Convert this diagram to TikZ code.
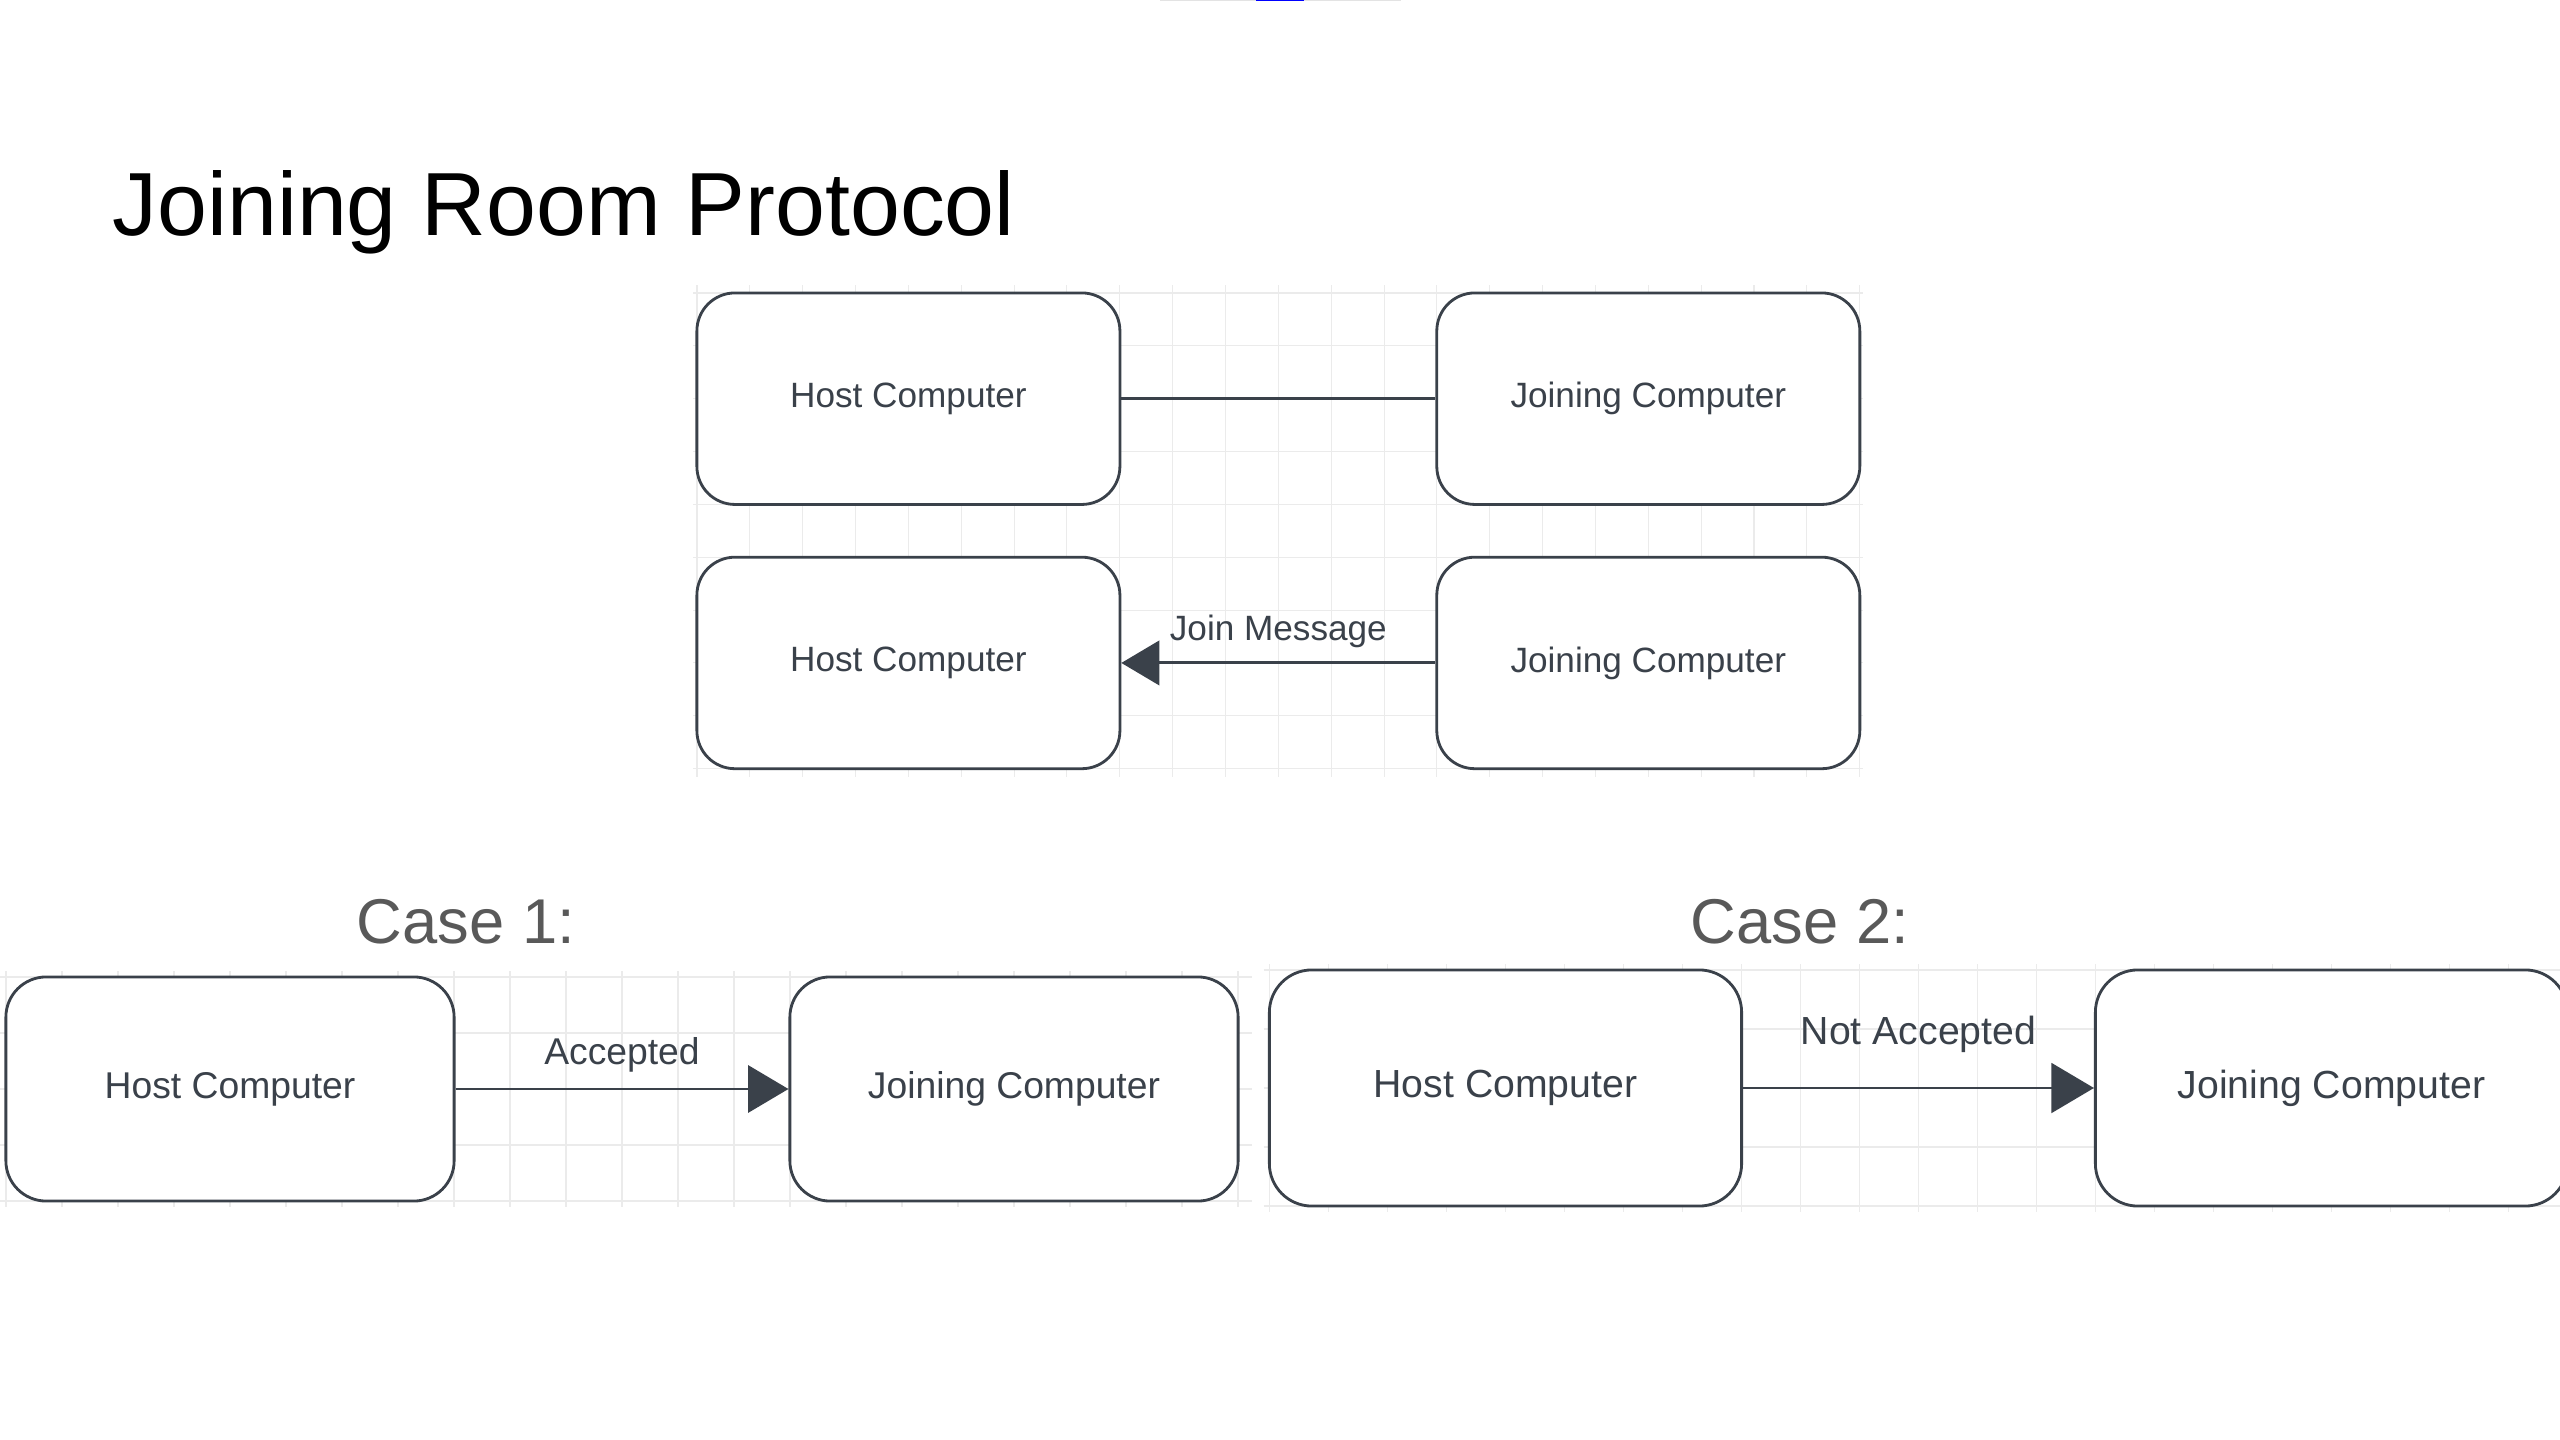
\documentclass[tikz,border=0pt]{standalone}
\usepackage{fontspec}
\setmainfont{Liberation Sans}
\usetikzlibrary{arrows.meta}
\definecolor{edgec}{HTML}{3A414A}
\definecolor{gridc}{HTML}{EBEBEB}
\definecolor{casec}{HTML}{595959}
\tikzset{
	comp/.style={draw=edgec, fill=white, text=edgec, line width=0.8pt, inner sep=0pt},
	link/.style={draw=edgec, line width=0.85pt},
	lbl/.style={text=edgec, inner sep=0pt, anchor=base},
	gridln/.style={draw=gridc, line width=0.3pt}
}
\begin{document}
\begin{tikzpicture}[x=0.01cm, y=-0.01cm]
\useasboundingbox (0,0) rectangle (2560,1440);
\fill[gray!22] (1160,0) rectangle (1401,1.5);
\fill[blue] (1256,0) rectangle (1304,1.5);
\node[anchor=base west, inner sep=0pt, font=\fontsize{25.5}{30}\selectfont] (title) at (112,236) {Joining Room Protocol};
\node[anchor=base, inner sep=0pt, text=casec, font=\fontsize{18}{21}\selectfont] (case1) at (466,943) {Case 1:};
\node[anchor=base, inner sep=0pt, text=casec, font=\fontsize{18}{21}\selectfont] (case2) at (1800,943) {Case 2:};
\def\ox{697}
\def\oy{293}
\def\u{52.85}
\pgfmathsetmacro{\w}{8*\u/100}
\pgfmathsetmacro{\h}{4*\u/100}
\pgfmathsetmacro{\r}{0.72*\u/100}
\pgfmathsetmacro{\al}{0.72*\u/100}
\pgfmathsetmacro{\aw}{0.84*\u/100}
\foreach \k in {0,...,22} {
	\draw[gridln] ({\ox+\k*\u},{\oy-8}) -- ({\ox+\k*\u},{\oy+9*\u+8});
}
\foreach \j in {0,...,9} {
	\draw[gridln] ({\ox-4},{\oy+\j*\u}) -- ({\ox+22*\u+3},{\oy+\j*\u});
}
\foreach \row/\nm in {0/a, 5/b} {
	\node[comp, minimum width=\w cm, minimum height=\h cm, rounded corners=\r cm, font=\fontsize{10}{12}\selectfont] (h\nm) at ({\ox+4*\u},{\oy+(\row+2)*\u}) {Host Computer};
	\node[comp, minimum width=\w cm, minimum height=\h cm, rounded corners=\r cm, font=\fontsize{10}{12}\selectfont] (j\nm) at ({\ox+18*\u},{\oy+(\row+2)*\u}) {Joining Computer};
}
\draw[link] (ha) -- (ja);
\draw[link, -{Triangle[length=\al cm, width=\aw cm]}] (jb) -- node[lbl, midway, yshift=0.22cm, font=\fontsize{10}{12}\selectfont] (jmsg) {Join Message} (hb);
\foreach \ox/\oy/\u/\fs/\txt/\ly/\nm in {6/977/56/10.6/Accepted/0.24/c, 1269.5/970/59/11.15/Not Accepted/0.43/d} {
	\pgfmathsetmacro{\w}{8*\u/100}
	\pgfmathsetmacro{\h}{4*\u/100}
	\pgfmathsetmacro{\r}{0.72*\u/100}
	\pgfmathsetmacro{\al}{0.72*\u/100}
	\pgfmathsetmacro{\aw}{0.84*\u/100}
	\foreach \k in {0,...,22} {
		\draw[gridln] ({\ox+\k*\u},{\oy-6}) -- ({\ox+\k*\u},{\oy+4*\u+6});
	}
	\foreach \j in {0,...,4} {
		\draw[gridln] ({\ox-6},{\oy+\j*\u}) -- ({\ox+22*\u+14},{\oy+\j*\u});
	}
	\node[comp, minimum width=\w cm, minimum height=\h cm, rounded corners=\r cm, font=\fontsize{\fs}{12}\selectfont] (h\nm) at ({\ox+4*\u},{\oy+2*\u}) {Host Computer};
	\node[comp, minimum width=\w cm, minimum height=\h cm, rounded corners=\r cm, font=\fontsize{\fs}{12}\selectfont] (j\nm) at ({\ox+18*\u},{\oy+2*\u}) {Joining Computer};
	\draw[link, -{Triangle[length=\al cm, width=\aw cm]}] (h\nm) -- node[lbl, midway, yshift=\ly cm, font=\fontsize{\fs}{12}\selectfont] (m\nm) {\txt} (j\nm);
}
\end{tikzpicture}
\end{document}
